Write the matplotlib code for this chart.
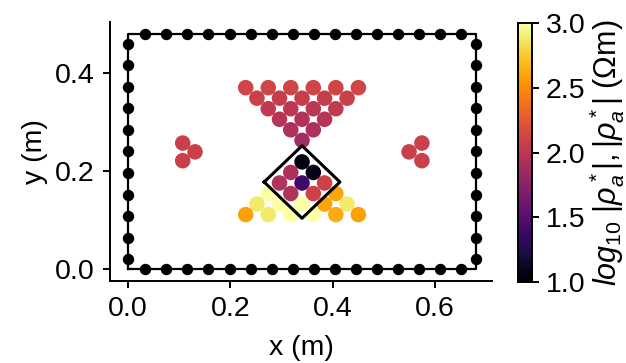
import numpy as np
import matplotlib
matplotlib.use("Agg")
import matplotlib.pyplot as plt
from matplotlib.colors import Normalize

plt.rcParams["font.family"] = ["Liberation Sans", "DejaVu Sans"]
plt.rcParams["mathtext.fontset"] = "custom"
plt.rcParams["mathtext.rm"] = "Liberation Sans"
plt.rcParams["mathtext.it"] = "Liberation Sans:italic"
plt.rcParams["mathtext.bf"] = "Liberation Sans:bold"

FS = 20.5

# Tank outline (m)
tank_w = 0.68
tank_h = 0.48

# Electrode positions (m)
elec_top_bottom_x = [0.034 + 0.0411 * k for k in range(16)]
elec_side_y = [0.02 + 0.044 * k for k in range(11)]

# Element centroids (m) and log10 resistivity values
upper_x = [0.230, 0.274, 0.318, 0.362, 0.406, 0.450,
           0.252, 0.296, 0.340, 0.384, 0.428,
           0.274, 0.318, 0.362, 0.406,
           0.296, 0.340, 0.384,
           0.318, 0.362,
           0.340]
upper_y = [0.370] * 6 + [0.3485] * 5 + [0.327] * 4 + [0.3055] * 3 + [0.284] * 2 + [0.2625]
upper_v = [2.12, 2.12, 2.12, 2.12, 2.12, 2.12,
           2.08, 2.06, 2.06, 2.06, 2.08,
           2.03, 2.00, 2.00, 2.03,
           1.97, 1.95, 1.97,
           1.93, 1.93,
           1.88]

lower_x = [0.340,
           0.318, 0.362,
           0.296, 0.340, 0.384,
           0.274, 0.318, 0.362, 0.406,
           0.252, 0.296, 0.340, 0.384, 0.428,
           0.230, 0.274, 0.318, 0.362, 0.406, 0.450]
lower_y = [0.2185] + [0.197] * 2 + [0.1755] * 3 + [0.154] * 4 + [0.1325] * 5 + [0.111] * 6
lower_v = [1.05,
           1.93, 1.08,
           1.95, 1.40, 2.10,
           3.00, 1.95, 2.10, 2.60,
           2.88, 3.00, 3.00, 2.60, 2.88,
           2.58, 2.88, 3.00, 3.00, 2.62, 2.58]

side_x = [0.107, 0.131, 0.107, 0.574, 0.549, 0.574]
side_y = [0.257, 0.239, 0.221, 0.257, 0.239, 0.221]
side_v = [2.08, 2.08, 2.08, 2.08, 2.08, 2.08]

# Inclusion outline (diamond): centre and half-diagonal (m)
incl_cx, incl_cy, incl_r = 0.340, 0.1775, 0.074

fig = plt.figure(figsize=(6.26, 3.63), dpi=100)
ax = fig.add_axes([0.1757, 0.2259, 0.6103, 0.7135])
cax = fig.add_axes([0.8275, 0.2231, 0.0224, 0.7135])

norm = Normalize(vmin=1.0, vmax=3.0)
xs = upper_x + lower_x + side_x
ys = upper_y + lower_y + side_y
vs = upper_v + lower_v + side_v
sc = ax.scatter(xs, ys, c=vs, cmap="inferno", norm=norm, s=125,
                edgecolors="none", zorder=2)

# Tank boundary with electrodes
ax.plot([0, tank_w, tank_w, 0, 0], [0, 0, tank_h, tank_h, 0],
        color="black", lw=1.6, zorder=3)
ax.plot(elec_top_bottom_x, [0] * 16, "o", color="black", ms=7.2, zorder=4)
ax.plot(elec_top_bottom_x, [tank_h] * 16, "o", color="black", ms=7.2, zorder=4)
ax.plot([0] * 11, elec_side_y, "o", color="black", ms=7.2, zorder=4)
ax.plot([tank_w] * 11, elec_side_y, "o", color="black", ms=7.2, zorder=4)

# Inclusion outline
dx = [incl_cx - incl_r, incl_cx, incl_cx + incl_r, incl_cx, incl_cx - incl_r]
dy = [incl_cy, incl_cy + incl_r, incl_cy, incl_cy - incl_r, incl_cy]
ax.plot(dx, dy, color="black", lw=2.2, zorder=5)

ax.set_xlim(-0.035, 0.711)
ax.set_ylim(-0.0245, 0.504)
ax.set_xticks([0.0, 0.2, 0.4, 0.6])
ax.set_yticks([0.0, 0.2, 0.4])
ax.spines["top"].set_visible(False)
ax.spines["right"].set_visible(False)
for s in ("left", "bottom"):
    ax.spines[s].set_linewidth(1.4)
ax.tick_params(labelsize=FS, length=5, width=1.4, pad=6)
ax.set_xlabel("x (m)", fontsize=FS, labelpad=9)
ax.set_ylabel("y (m)", fontsize=FS, labelpad=5)

cb = fig.colorbar(sc, cax=cax)
cb.set_ticks([1.0, 1.5, 2.0, 2.5, 3.0])
cb.outline.set_linewidth(1.4)
cb.ax.tick_params(labelsize=FS, length=5, width=1.4, pad=5)
cb.set_label(r"$log_{10}\ |\rho_a^*|, |\rho_a^*|$ (Ωm)", fontsize=22, labelpad=1)

fig.savefig("out.png", dpi=100)
